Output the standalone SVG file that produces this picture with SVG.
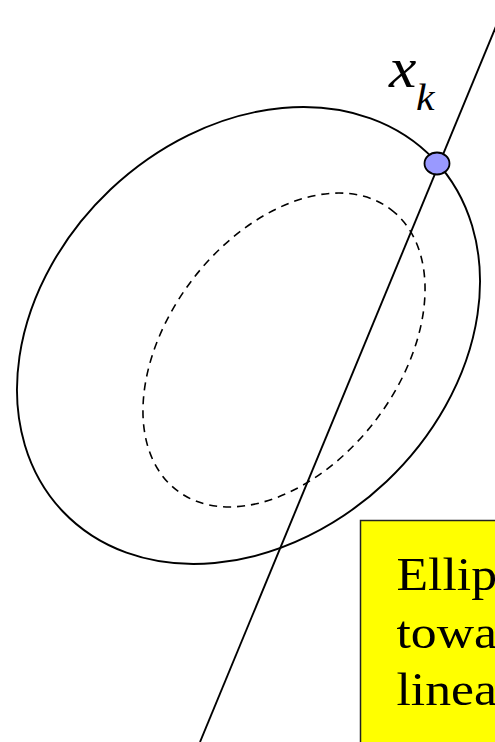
<svg xmlns="http://www.w3.org/2000/svg" width="495" height="742" viewBox="0 0 495 742">
<style>
.curve{fill:none;stroke:#000;stroke-width:1.9}
.dash{fill:none;stroke:#000;stroke-width:1.6;stroke-dasharray:8,6}
.lbl{font-family:"Liberation Serif","Times New Roman",serif;font-style:italic;fill:#000}
.note{font-family:"Liberation Serif","Times New Roman",serif;font-size:47px;fill:#000}
</style>
<rect width="495" height="742" fill="#fff"/>
<g id="outer-ellipse">
<ellipse class="curve" cx="248.5" cy="335.5" rx="255.8" ry="200.9" transform="rotate(-43.4 248.5 335.5)"/>
</g>
<g id="inner-ellipse">
<ellipse class="dash" cx="284" cy="350" rx="176.6" ry="115.5" transform="rotate(-52.7 284 350)"/>
</g>
<g id="connectors">
<line class="curve" x1="200" y1="742" x2="497" y2="24"/>
</g>
<g id="point-xk">
<ellipse cx="437" cy="163.5" rx="12.5" ry="11" fill="#9999ff" stroke="#000" stroke-width="1.8"/>
<text class="lbl" font-size="56" transform="translate(389 86.5) scale(1.1 1)">x</text>
<text class="lbl" font-size="38" transform="translate(416 110) scale(1.1 1)">k</text>
</g>
<g id="note">
<rect x="360.5" y="520.5" width="140" height="230" fill="#ffff00" stroke="#222" stroke-width="1.5"/>
<g transform="translate(396.5 0) scale(1.1 1)">
<text class="note" x="0" y="590">Ellip</text>
<text class="note" x="0" y="648">towa</text>
<text class="note" x="0" y="705.5">linea</text>
</g>
</g>
</svg>
